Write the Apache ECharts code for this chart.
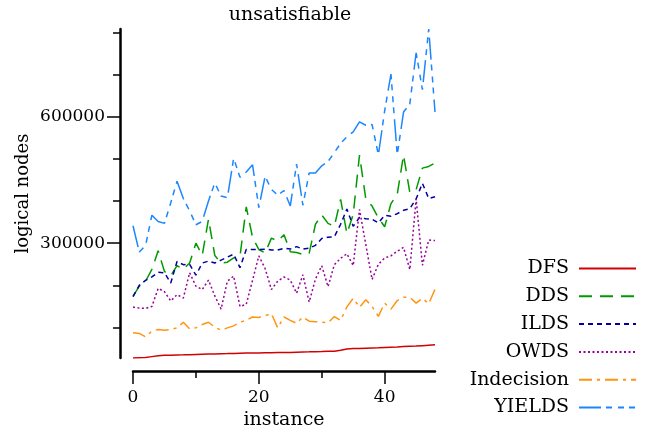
<!DOCTYPE html>
<html>
<head>
<meta charset="utf-8">
<script src="https://cdn.jsdelivr.net/npm/echarts@6/dist/echarts.min.js"></script>
<style>html,body{margin:0;padding:0;background:#fff;}#c{width:651px;height:435px;}</style>
</head>
<body>
<div id="c"></div>
<script>
const instances = [0,1,2,3,4,5,6,7,8,9,10,11,12,13,14,15,16,17,18,19,20,21,22,23,24,25,26,27,28,29,30,31,32,33,34,35,36,37,38,39,40,41,42,43,44,45,46,47,48];
const seriesNames = ['DFS','DDS','ILDS','OWDS','Indecision','YIELDS'];
const DFS = [27500,28500,29000,31000,33000,34000,34500,35000,35200,35500,36000,36500,37000,37500,38000,38200,38500,39000,39300,39500,39700,40000,40200,40500,40800,41000,41500,42000,42300,42700,43000,43500,44000,46000,49000,50000,50500,51000,51500,52000,52800,53500,54000,54800,55500,56000,57000,58000,59000];
const DDS = [174000,198000,210000,238000,282000,233000,223000,247000,238000,253000,300000,271000,357000,271000,253000,255000,265000,268000,386000,314000,285000,277000,312000,305000,320000,280000,278000,273000,276000,345000,367000,347000,340000,404000,323000,368000,509000,405000,388000,360000,339000,394000,416000,509000,420000,427000,478000,482000,490000];
const ILDS = [173500,200000,212000,220000,231000,230000,205500,256500,249000,250000,224000,253000,257500,253000,260000,267000,274000,242000,285000,285000,285000,286000,284000,284000,288000,286000,292000,286000,288000,295000,311000,314000,315000,345000,381000,340000,361000,358000,357000,348000,366000,364000,370000,378000,382000,405000,442000,406000,410000];
const OWDS = [148500,146000,145300,150000,193000,185000,163000,178000,170000,230000,198000,190000,212500,175000,143800,210000,222000,150000,155000,212000,270000,240000,190000,210000,220000,212500,181300,225000,160500,215000,246500,197000,249000,264000,275000,247000,380000,297000,214000,250000,265000,270000,281000,290000,237500,405000,247700,307500,306300];
const Indecision = [87500,86000,78000,91400,95400,93800,95400,99200,112500,96800,99200,107000,112500,100800,93800,99200,104000,112500,117200,125000,124000,128000,133000,99000,125000,117000,110000,125000,115000,114000,112500,111000,126000,117000,149000,169500,148000,165700,150000,126600,157800,143700,164000,171800,171800,157800,169500,156400,190600];
const YIELDS = [341500,279000,294600,366400,351600,347000,396000,447000,406000,376600,343800,351600,400000,443000,411800,408000,501600,456300,468800,486000,384400,458700,427400,414100,425000,388300,487600,390000,466500,466500,483600,493800,515000,536800,552400,564200,587600,579700,581300,509400,614100,700900,509400,611000,630500,751600,664100,808000,611000];
const xMajorTicks = [0,20,40];
const xMinorTicks = [10,30];
const yMajorTicks = [300000,600000];
const yMinorTicks = [100000,200000,400000,500000,700000,800000];

const allValues = [DFS,DDS,ILDS,OWDS,Indecision,YIELDS];
const colors = ['#d40000','#009a00','#0000a0','#990099','#ff9410','#1c86ff'];
const dashes = ['solid',[13,8],[5,4],[2,2.5],[13,5,3,5],[22,5,6,6,6,5,6,6]];
const flat = [].concat(...allValues);
const yMin = Math.min(...flat), yMax = Math.max(...flat);
const FONT = 'DejaVu Serif';

const chart = echarts.init(document.getElementById('c'), null, {renderer:'canvas'});
const axisLineStyle = {show:true, onZero:false, lineStyle:{color:'#000', width:2.5}};
const plain = v => String(Math.round(v));
chart.setOption({
  animation:false,
  backgroundColor:'#fff',
  title:{text:'unsatisfiable', left:285, top:1, textAlign:'center',
    textStyle:{fontFamily:FONT, fontSize:19, fontWeight:'normal', color:'#000'}},
  grid:{left:133, right:216, top:29, bottom:73, containLabel:false},
  xAxis:[
    {type:'value', min:0, max:48, position:'bottom', offset:13,
     axisLine:axisLineStyle, splitLine:{show:false},
     axisTick:{show:true, length:13, customValues:xMajorTicks, lineStyle:{color:'#000', width:1.5}},
     axisLabel:{customValues:xMajorTicks, formatter:plain, margin:18, fontFamily:FONT, fontSize:17, color:'#000'},
     name:'instance', nameLocation:'middle', nameGap:38,
     nameTextStyle:{fontFamily:FONT, fontSize:19, color:'#000'}},
    {type:'value', min:0, max:48, position:'bottom', offset:13,
     axisLine:{show:false, onZero:false}, splitLine:{show:false},
     axisTick:{show:true, length:7, customValues:xMinorTicks, lineStyle:{color:'#000', width:1.5}},
     axisLabel:{show:false}}
  ],
  yAxis:[
    {type:'value', min:yMin, max:yMax, position:'left', offset:13,
     axisLine:axisLineStyle, splitLine:{show:false},
     axisTick:{show:true, length:13, customValues:yMajorTicks, lineStyle:{color:'#000', width:1.5}},
     axisLabel:{customValues:yMajorTicks, formatter:plain, margin:15, fontFamily:FONT, fontSize:17, color:'#000'},
     name:'logical nodes', nameLocation:'middle', nameGap:88, nameRotate:90,
     nameTextStyle:{fontFamily:FONT, fontSize:18, color:'#000'}},
    {type:'value', min:yMin, max:yMax, position:'left', offset:13,
     axisLine:{show:false, onZero:false}, splitLine:{show:false},
     axisTick:{show:true, length:7, customValues:yMinorTicks, lineStyle:{color:'#000', width:1.5}},
     axisLabel:{show:false}}
  ],
  legend:{orient:'vertical', right:14, top:259, padding:0, align:'right', itemWidth:57, itemHeight:10, itemGap:8.8,
    itemStyle:{opacity:0},
    textStyle:{fontFamily:FONT, fontSize:19, color:'#000', padding:[0,5,0,0]},
    data:seriesNames},
  series: seriesNames.map((n,k)=>({
    name:n, type:'line', xAxisIndex:0, yAxisIndex:0,
    data: instances.map((x,i)=>[x, allValues[k][i]]),
    symbol:'none', showSymbol:false,
    lineStyle:{color:colors[k], width:1.5, type:dashes[k]},
    itemStyle:{color:colors[k]}
  }))
});
</script>
</body>
</html>
